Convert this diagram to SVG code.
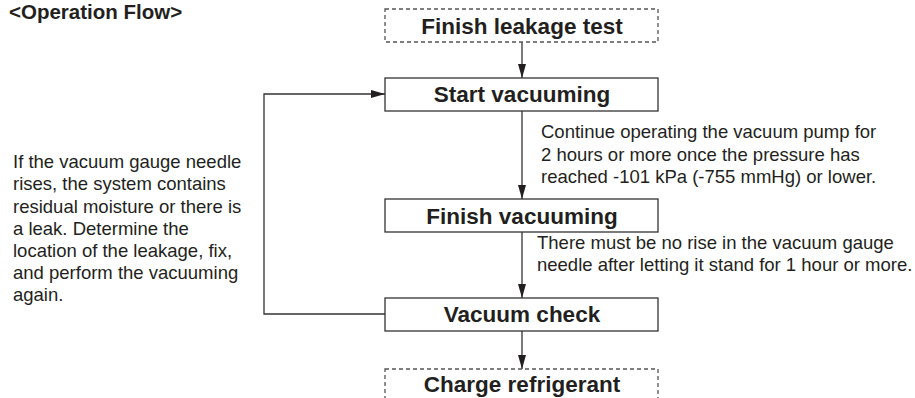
<svg xmlns="http://www.w3.org/2000/svg" width="915" height="398" viewBox="0 0 915 398">
<style>
.box{fill:#fff;stroke:#333;stroke-width:1.3}
.dash{fill:#fff;stroke:#555;stroke-width:1.3;stroke-dasharray:4 3}
.lbl{font-family:"Liberation Sans",Arial,sans-serif;font-weight:bold;font-size:22.5px;fill:#231f20;text-anchor:middle}
.body{font-family:"Liberation Sans",Arial,sans-serif;font-size:18.5px;fill:#231f20}
.title{font-family:"Liberation Sans",Arial,sans-serif;font-weight:bold;font-size:20.5px;fill:#231f20}
.conn{fill:none;stroke:#333;stroke-width:1.3}
</style>
<defs>
<marker id="ah" markerUnits="userSpaceOnUse" markerWidth="14" markerHeight="8" refX="14" refY="4" orient="auto">
<path d="M0,0 L14,4 L0,8 z" fill="#231f20"/>
</marker>
</defs>
<rect width="915" height="398" fill="#fff"/>
<text class="title" x="9" y="18.5">&lt;Operation Flow&gt;</text>
<g id="connectors">
<line class="conn" x1="522" y1="42" x2="522" y2="78" marker-end="url(#ah)"/>
<line class="conn" x1="522" y1="111" x2="522" y2="199" marker-end="url(#ah)"/>
<line class="conn" x1="522" y1="232" x2="522" y2="298" marker-end="url(#ah)"/>
<line class="conn" x1="522" y1="331" x2="522" y2="369" marker-end="url(#ah)"/>
<polyline class="conn" points="385,314 264,314 264,94 385,94" marker-end="url(#ah)"/>
</g>
<g id="n-finish-leak">
<rect class="dash" x="385" y="9" width="273" height="33"/>
<text class="lbl" x="522" y="34">Finish leakage test</text>
</g>
<g id="n-start-vac">
<rect class="box" x="385" y="78" width="273" height="33"/>
<text class="lbl" x="522" y="102">Start vacuuming</text>
</g>
<g id="n-finish-vac">
<rect class="box" x="385" y="199" width="273" height="33"/>
<text class="lbl" x="522" y="224">Finish vacuuming</text>
</g>
<g id="n-vac-check">
<rect class="box" x="385" y="298" width="273" height="33"/>
<text class="lbl" x="522" y="322">Vacuum check</text>
</g>
<g id="n-charge">
<rect class="dash" x="385" y="369" width="273" height="40"/>
<text class="lbl" x="522" y="392">Charge refrigerant</text>
</g>
<g id="note-pump">
<text class="body" x="541" y="138">Continue operating the vacuum pump for</text>
<text class="body" x="541" y="161">2 hours or more once the pressure has</text>
<text class="body" x="541" y="183">reached -101 kPa (-755 mmHg) or lower.</text>
</g>
<g id="note-check">
<text class="body" x="537" y="249">There must be no rise in the vacuum gauge</text>
<text class="body" x="537" y="271">needle after letting it stand for 1 hour or more.</text>
</g>
<g id="note-leak">
<text class="body" x="13" y="168">If the vacuum gauge needle</text>
<text class="body" x="13" y="190">rises, the system contains</text>
<text class="body" x="13" y="213">residual moisture or there is</text>
<text class="body" x="13" y="235">a leak. Determine the</text>
<text class="body" x="13" y="257">location of the leakage, fix,</text>
<text class="body" x="13" y="279">and perform the vacuuming</text>
<text class="body" x="13" y="301">again.</text>
</g>
</svg>
